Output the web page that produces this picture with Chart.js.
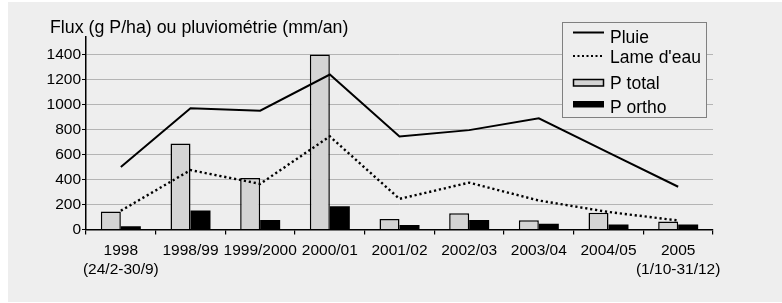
<!DOCTYPE html>
<html>
<head>
<meta charset="utf-8">
<script src="https://cdn.jsdelivr.net/npm/chart.js@4/dist/chart.umd.min.js"></script>
<style>
html,body{margin:0;padding:0;background:#fff;}
#wrap{width:782px;height:303px;position:relative;}
</style>
</head>
<body>
<div id="wrap"><canvas id="c" width="782" height="303"></canvas></div>
<script>
const categories = [['1998','(24/2-30/9)'], '1998/99', '1999/2000', '2000/01', '2001/02', '2002/03', '2003/04', '2004/05', ['2005','(1/10-31/12)']];
const pluie = [500, 970, 950, 1240, 745, 795, 890, 615, 342];
const lameDEau = [150, 475, 365, 745, 245, 375, 232, 140, 72];
const pTotal = [145, 688, 412, 1400, 85, 130, 74, 134, 64];
const pOrtho = [27, 152, 76, 186, 36, 76, 47, 41, 40];
const yTicks = [0, 200, 400, 600, 800, 1000, 1200, 1400];
const axisTitle = 'Flux (g P/ha) ou pluviométrie (mm/an)';

const FONT = 'Liberation Sans, Arial, sans-serif';

const bgPlugin = {
  id: 'bg',
  beforeDraw(chart) {
    const ctx = chart.ctx;
    ctx.save();
    ctx.fillStyle = '#ffffff';
    ctx.fillRect(0, 0, chart.width, chart.height);
    ctx.fillStyle = '#eeeeee';
    ctx.fillRect(8, 2, chart.width - 8, 300);
    ctx.restore();
  }
};

const titlePlugin = {
  id: 'axisTitle',
  afterDraw(chart) {
    const ctx = chart.ctx;
    ctx.save();
    ctx.fillStyle = '#000';
    ctx.font = '17.8px ' + FONT;
    ctx.textBaseline = 'alphabetic';
    ctx.textAlign = 'left';
    ctx.fillText(axisTitle, 50, 32.5);
    ctx.restore();
  }
};

const legendPlugin = {
  id: 'customLegend',
  afterDraw(chart) {
    const ctx = chart.ctx;
    const ds = chart.data.datasets;
    ctx.save();
    ctx.fillStyle = '#eeeeee';
    ctx.fillRect(562.5, 22.5, 144, 95);
    ctx.strokeStyle = '#808080';
    ctx.lineWidth = 1;
    ctx.strokeRect(562.5, 22.5, 144, 95);
    ctx.font = '17.5px ' + FONT;
    ctx.fillStyle = '#000';
    ctx.textAlign = 'left';
    ctx.textBaseline = 'alphabetic';
    // Pluie
    ctx.beginPath();
    ctx.strokeStyle = '#000';
    ctx.lineWidth = 2;
    ctx.moveTo(573, 32.5); ctx.lineTo(604, 32.5); ctx.stroke();
    ctx.fillText(ds[0].label, 610, 43);
    // Lame d'eau
    ctx.beginPath();
    ctx.setLineDash([2, 2.5]);
    ctx.lineWidth = 2.2;
    ctx.moveTo(573, 56); ctx.lineTo(604, 56); ctx.stroke();
    ctx.setLineDash([]);
    ctx.fillText(ds[1].label, 610, 63);
    // P total
    ctx.fillStyle = ds[2].backgroundColor;
    ctx.fillRect(573, 79, 31, 7);
    ctx.lineWidth = 1.5;
    ctx.strokeRect(573.5, 79.5, 30, 6.5);
    ctx.fillStyle = '#000';
    ctx.fillText(ds[2].label, 610, 89);
    // P ortho
    ctx.fillRect(573, 101, 31, 6.5);
    ctx.fillText(ds[3].label, 610, 112.5);
    ctx.restore();
  }
};

new Chart(document.getElementById('c'), {
  type: 'bar',
  data: {
    labels: categories,
    datasets: [
      { type: 'line', label: 'Pluie', data: pluie, borderColor: '#000', borderWidth: 2, pointRadius: 0, fill: false, tension: 0, order: 0 },
      { type: 'line', label: "Lame d'eau", data: lameDEau, borderColor: '#000', borderWidth: 2.4, borderDash: [2.2, 2.8], pointRadius: 0, fill: false, tension: 0, order: 0 },
      { type: 'bar', label: 'P total', data: pTotal, backgroundColor: '#d4d4d4', borderColor: '#000', borderWidth: 1.5, order: 1, categoryPercentage: 0.574, barPercentage: 1 },
      { type: 'bar', label: 'P ortho', data: pOrtho, backgroundColor: '#000', borderColor: '#000', borderWidth: 0, order: 1, categoryPercentage: 0.574, barPercentage: 1 }
    ]
  },
  options: {
    responsive: false,
    animation: false,
    devicePixelRatio: 1,
    layout: { padding: { left: 0, top: 37, right: 69, bottom: 0 } },
    plugins: { legend: { display: false }, tooltip: { enabled: false }, title: { display: false } },
    scales: {
      x: {
        offset: true,
        grid: { display: true, drawOnChartArea: false, drawTicks: true, tickLength: 5, color: '#000', tickColor: '#000', offset: true, lineWidth: 1.2 },
        border: { display: true, color: '#000', width: 1.5 },
        ticks: { color: '#000', font: { family: FONT, size: 15.5 }, padding: 7, maxRotation: 0, autoSkip: false },
        afterFit(scale) { scale.height = 73.5; }
      },
      y: {
        min: 0,
        max: 1540,
        grid: { color: '#b4b4b4', lineWidth: 1, drawTicks: true, tickLength: 4, tickColor: '#000' },
        border: { display: true, color: '#000', width: 1.5 },
        ticks: { stepSize: 200, color: '#000', font: { family: FONT, size: 15.5 }, padding: 1, callback: (v) => String(v) },
        afterBuildTicks(scale) { scale.ticks = yTicks.map(v => ({ value: v })); },
        afterFit(scale) { scale.width = 86; }
      }
    }
  },
  plugins: [bgPlugin, titlePlugin, legendPlugin]
});
</script>
</body>
</html>
